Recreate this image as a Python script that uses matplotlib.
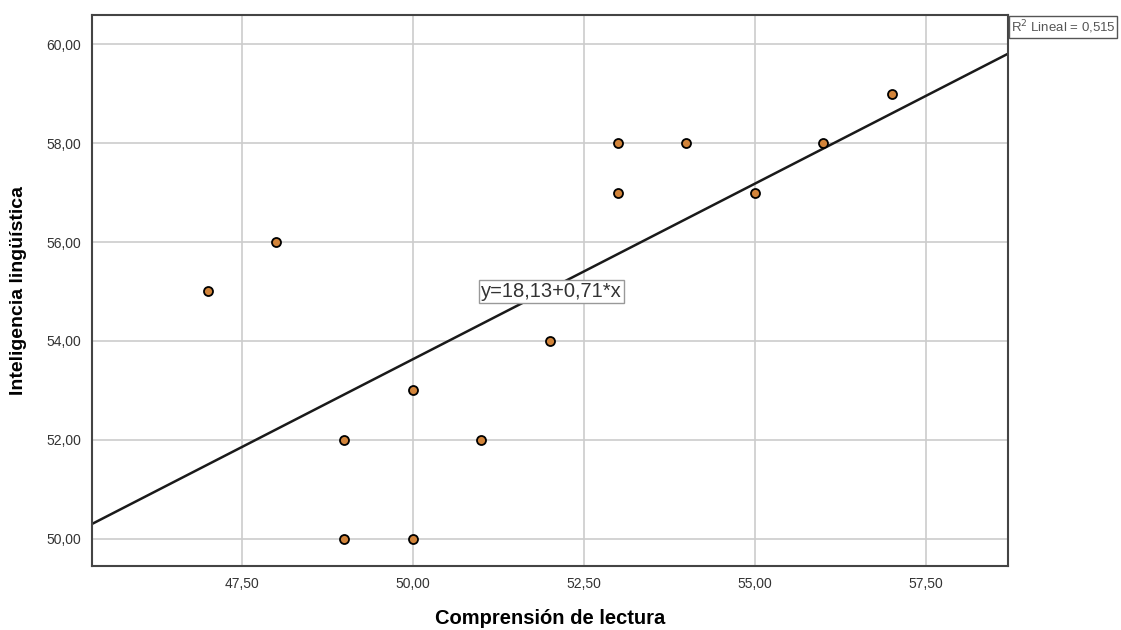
import matplotlib
matplotlib.use("Agg")
import matplotlib.pyplot as plt
from matplotlib.ticker import FuncFormatter

plt.rcParams['font.family'] = ['Liberation Sans', 'DejaVu Sans']

# datos
comprension = [47, 48, 49, 49, 50, 50, 51, 52, 53, 53, 54, 55, 56, 57]
inteligencia = [55, 56, 52, 50, 53, 50, 52, 54, 58, 57, 58, 57, 58, 59]
intercepto = 18.13
pendiente = 0.71
r2 = 0.515
x_ticks = [47.5, 50.0, 52.5, 55.0, 57.5]
y_ticks = [50, 52, 54, 56, 58, 60]


def coma(v, pos=None):
    return f"{v:.2f}".replace(".", ",")


fig = plt.figure(figsize=(11.21, 6.30), dpi=100)
ax = fig.add_axes([0.0821, 0.1016, 0.8171, 0.8746])

xmin, xmax = 45.31, 58.70
ax.set_xlim(xmin, xmax)
ax.set_ylim(49.45, 60.59)

ax.grid(True, color="#cccccc", linewidth=1.2)
ax.set_axisbelow(True)

ax.scatter(comprension, inteligencia, s=42, color="#d2843a",
           edgecolors="black", linewidths=1.3, zorder=3)

ax.plot([xmin, xmax], [intercepto + pendiente * xmin, intercepto + pendiente * xmax],
        color="#1a1a1a", linewidth=1.8, zorder=2)

ax.text(51.0, 55.0, f"y={coma(intercepto)}+{coma(pendiente)}*x",
        fontsize=14.5, color="#333333", va="center", ha="left", zorder=4,
        bbox=dict(boxstyle="square,pad=0.12", facecolor="white", edgecolor="#999999"))

fig.text(0.9015, 0.957, f"R$^2$ Lineal = {r2:.3f}".replace(".", ","), fontsize=9.5,
         color="#555555", ha="left", va="center",
         bbox=dict(boxstyle="square,pad=0.15", facecolor="white", edgecolor="#555555"))

ax.set_xticks(x_ticks)
ax.set_yticks(y_ticks)
ax.xaxis.set_major_formatter(FuncFormatter(coma))
ax.yaxis.set_major_formatter(FuncFormatter(coma))
ax.tick_params(length=0, labelsize=10, colors="#333333", pad=8)

for s in ax.spines.values():
    s.set_color("#444444")
    s.set_linewidth(1.5)

ax.set_xlabel("Comprensión de lectura", fontsize=14.5, fontweight="bold", labelpad=13)
ax.set_ylabel("Inteligencia lingüística", fontsize=14, fontweight="bold", labelpad=14)

fig.savefig("out.png", dpi=100, facecolor="white")
